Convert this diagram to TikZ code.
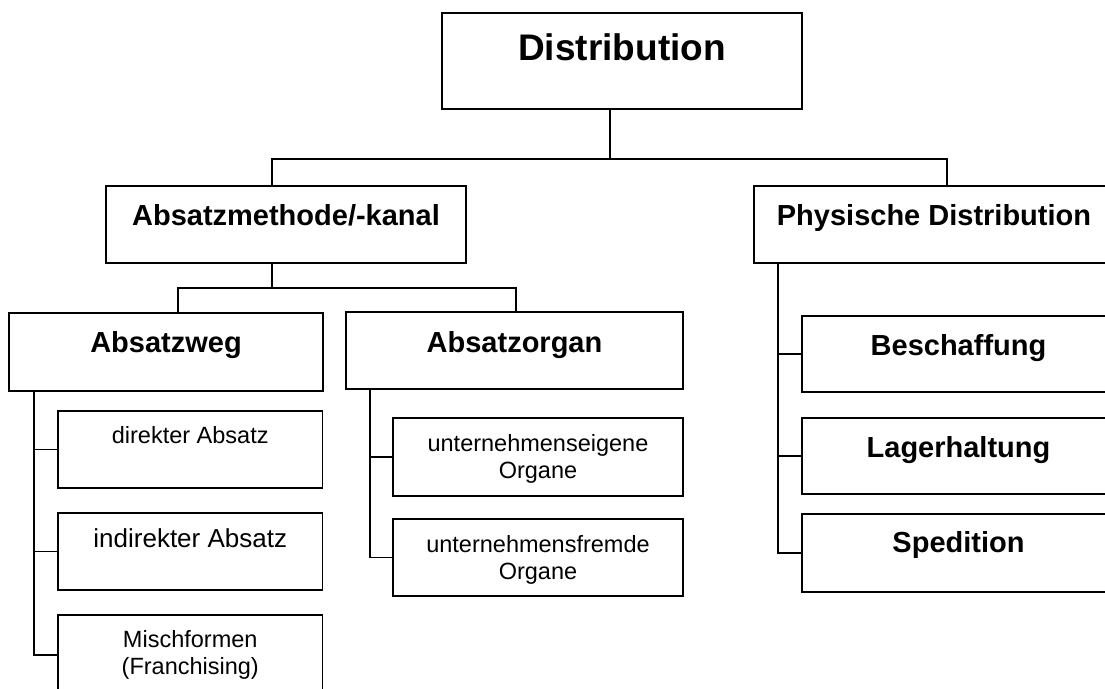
\documentclass[tikz,border=0pt]{standalone}
\usepackage{fontspec}
\setmainfont{Liberation Sans}
\begin{document}
\begin{tikzpicture}[x=1pt,y=-1pt]
\tikzset{
 box/.style={draw=black, line width=1.8pt, rectangle, inner sep=0pt, outer sep=0pt, anchor=north west, fill=white},
 conn/.style={draw=black, line width=1.6pt},
 ttop/.style={font=\fontsize{37}{44}\selectfont\bfseries, anchor=base, inner sep=0pt},
 tmid/.style={font=\fontsize{29}{34}\selectfont\bfseries, anchor=base, inner sep=0pt},
 tsmall/.style={font=\fontsize{23.5}{27}\selectfont, anchor=base, inner sep=0pt},
 tlarge/.style={font=\fontsize{26}{30}\selectfont, anchor=base, inner sep=0pt},
 ttwo/.style={font=\fontsize{23.5}{27}\selectfont, anchor=north, align=center, inner sep=0pt},
}
\useasboundingbox (0,0) rectangle (1105,688);
\fill[white] (0,0) rectangle (1105,688);
\clip (0,0) rectangle (1105,688);

% boxes
\node[box, minimum width=360pt, minimum height=96pt] (dist) at (442,13) {};
\node[box, minimum width=360pt, minimum height=77pt] (meth) at (106,186) {};
\node[box, minimum width=360pt, minimum height=77pt] (phys) at (754,186) {};
\node[box, minimum width=314pt, minimum height=78pt] (weg) at (9,313) {};
\node[box, minimum width=337pt, minimum height=77pt] (org) at (346,312) {};
\node[box, minimum width=264.5pt, minimum height=77pt] (direkt) at (58,411) {};
\node[box, minimum width=264.5pt, minimum height=77pt] (indirekt) at (58,513) {};
\node[box, minimum width=264.5pt, minimum height=80pt] (misch) at (58,615) {};
\node[box, minimum width=290pt, minimum height=78pt] (eigen) at (393,418) {};
\node[box, minimum width=290pt, minimum height=77pt] (fremd) at (393,519) {};
\node[box, minimum width=313pt, minimum height=76pt] (besch) at (802,316) {};
\node[box, minimum width=313pt, minimum height=76pt] (lager) at (802,418) {};
\node[box, minimum width=313pt, minimum height=78pt] (sped) at (802,514) {};

% texts
\node[ttop] (distT) at ([yshift=-47pt]dist.north) {Distribution};
\node[tmid] (methT) at ([yshift=-39pt]meth.north) {Absatzmethode/-kanal};
\node[tmid] (physT) at ([yshift=-39pt]phys.north) {Physische Distribution};
\node[tmid] (wegT) at ([yshift=-39pt]weg.north) {Absatzweg};
\node[tmid] (orgT) at ([yshift=-40pt]org.north) {Absatzorgan};
\node[tsmall] (direktT) at ([yshift=-32pt]direkt.north) {direkter Absatz};
\node[tlarge] (indirektT) at ([yshift=-34.5pt]indirekt.north) {indirekter Absatz};
\node[ttwo] (mischT) at ([yshift=-12.5pt]misch.north) {\rule{0pt}{20pt}Mischformen\\(Franchising)};
\node[ttwo] (eigenT) at ([yshift=-13pt]eigen.north) {\rule{0pt}{20pt}unternehmenseigene\\Organe};
\node[ttwo] (fremdT) at ([yshift=-13pt]fremd.north) {\rule{0pt}{20pt}unternehmensfremde\\Organe};
\node[tmid] (beschT) at ([yshift=-39pt]besch.north) {Beschaffung};
\node[tmid] (lagerT) at ([yshift=-39pt]lager.north) {Lagerhaltung};
\node[tmid] (spedT) at ([yshift=-38pt]sped.north) {Spedition};

% connector coordinates
\coordinate (j1) at (610,159);
\coordinate (m1) at (272,159);
\coordinate (p1) at (947,159);
\coordinate (j2) at (272,288);
\coordinate (w2) at (178,288);
\coordinate (o2) at (516,288);
\coordinate (ws) at (34,0);
\coordinate (os) at (370,0);
\coordinate (ps) at (778,0);

% connectors
\draw[conn] (j1 |- dist.south) -- (j1);
\draw[conn] (m1 |- meth.north) -- (m1) -- (p1) -- (p1 |- phys.north);
\draw[conn] (j2 |- meth.south) -- (j2);
\draw[conn] (w2 |- weg.north) -- (w2) -- (o2) -- (o2 |- org.north);
\draw[conn] (ws |- weg.south) |- (misch.west);
\draw[conn] (ws |- direkt.west) -- (direkt.west);
\draw[conn] (ws |- indirekt.west) -- (indirekt.west);
\draw[conn] (os |- org.south) |- (fremd.west);
\draw[conn] (os |- eigen.west) -- (eigen.west);
\draw[conn] (ps |- phys.south) |- (sped.west);
\draw[conn] (ps |- besch.west) -- (besch.west);
\draw[conn] (ps |- lager.west) -- (lager.west);
\end{tikzpicture}
\end{document}
